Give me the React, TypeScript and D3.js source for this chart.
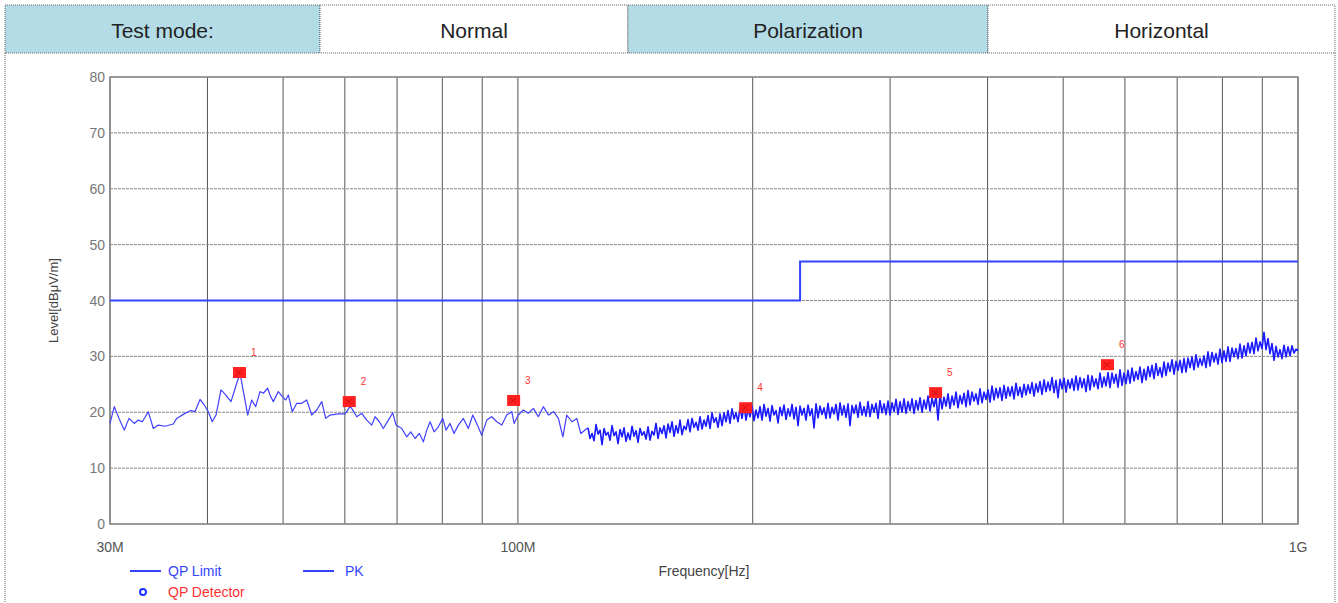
import React, { useEffect, useRef } from "react";
import * as d3 from "d3";

// header row of the test report
const headerCells = ["Test mode:", "Normal", "Polarization", "Horizontal"];
const headerShaded = [true, false, true, false];

const yTicks = [0, 10, 20, 30, 40, 50, 60, 70, 80];
const gridFreqs = [30, 40, 50, 60, 70, 80, 90, 100, 200, 300, 400, 500, 600, 700, 800, 900, 1000];
const xTickFreqs = [30, 100, 1000];
const xTickLabels = ["30M", "100M", "1G"];

// QP limit, MHz / dBuV/m
const limitFreqs = [30, 230, 230, 1000];
const limitLevels = [40, 40, 47, 47];

// PK trace, 30M - 123M (read point by point)
const pkLowFreqs = [
  30.0, 30.38, 30.81, 31.29, 31.73, 32.23, 32.61, 33.0, 33.59, 34.09, 34.6, 35.29, 36.16, 36.53, 37.43,
  38.1, 38.55, 39.13, 39.63, 40.1, 40.57, 41.02, 41.63, 42.21, 42.88, 43.48, 44.03, 45.05, 45.58, 46.12,
  46.71, 47.17, 47.78, 48.11, 48.58, 49.3, 49.89, 50.39, 50.78, 51.38, 52.05, 52.83, 53.61, 54.41, 55.22,
  56.05, 56.71, 57.44, 58.86, 60.04, 60.93, 61.23, 62.14, 63.07, 64.01, 64.96, 65.6, 66.44, 67.22, 68.22,
  69.12, 69.79, 70.98, 72.03, 72.89, 73.82, 74.76, 75.65, 76.41, 77.16, 78.08, 79.07, 80.11, 80.89, 81.85,
  82.82, 83.88, 85.13, 86.39, 87.52, 88.56, 89.88, 91.22, 92.58, 93.96, 95.36, 96.77, 98.21, 98.88, 100.1,
  101.6, 103.1, 104.7, 106.2, 107.8, 109.4, 111.1, 112.7, 114.2, 115.5, 117.3, 119.0, 120.4, 122.6,
];
const pkLowLevels = [
  18.0, 21.0, 18.9, 16.8, 18.9, 18.0, 18.6, 18.3, 20.1, 17.1, 17.7, 17.5, 17.9, 18.9, 19.8,
  20.3, 20.1, 22.3, 21.3, 20.1, 18.3, 19.5, 24.0, 23.1, 21.9, 24.6, 27.0, 19.5, 22.2, 21.0,
  23.7, 23.4, 24.3, 23.1, 21.9, 23.7, 22.8, 22.2, 23.1, 20.1, 21.6, 21.6, 22.2, 19.5, 20.4,
  21.9, 18.9, 19.5, 19.7, 19.7, 21.0, 20.7, 19.2, 19.8, 18.6, 17.7, 19.2, 18.3, 17.1, 18.6,
  19.9, 17.7, 17.1, 15.6, 16.5, 15.3, 16.2, 14.7, 16.8, 18.3, 16.5, 17.4, 18.9, 16.8, 18.0,
  16.2, 17.7, 18.9, 17.1, 19.5, 18.0, 15.9, 18.6, 19.2, 18.3, 17.7, 19.5, 20.1, 18.0, 19.5,
  20.4, 19.8, 20.7, 19.2, 21.0, 19.5, 20.1, 18.9, 15.6, 19.5, 18.3, 18.9, 16.2, 17.1,
];

// PK trace, 123M - 1G sweep (equal log steps)
const pkHighStart = 123;
const pkHighEnd = 1000;
const pkHighLevels = [
  17.2, 15.3, 16.2, 14.9, 17.8, 16.1, 16.8, 14.2, 17.1, 15.9,
  16.4, 15.0, 17.6, 15.8, 16.5, 14.4, 16.9, 15.6, 17.2, 14.8,
  16.3, 15.1, 17.5, 15.7, 16.7, 14.6, 17.1, 15.9, 16.5, 15.2,
  17.4, 15.0, 16.6, 15.9, 18.0, 15.3, 17.2, 16.2, 17.6, 15.4,
  17.9, 16.4, 18.3, 15.7, 17.6, 16.3, 18.6, 16.0, 17.5, 16.9,
  18.7, 16.5, 18.9, 17.3, 18.2, 16.8, 19.2, 17.0, 18.6, 17.5,
  19.4, 17.1, 19.9, 18.2, 19.0, 17.3, 19.7, 17.6, 19.9, 18.3,
  20.3, 18.0, 20.6, 18.8, 19.9, 18.3, 20.8, 18.9, 21.2, 18.6,
  20.6, 19.2, 21.1, 18.5, 20.4, 19.0, 21.0, 18.6, 21.4, 19.3,
  20.7, 18.4, 21.2, 19.5, 20.3, 18.1, 20.9, 19.4, 21.3, 18.7,
  20.6, 19.3, 21.4, 18.8, 20.9, 17.6, 21.1, 19.5, 20.7, 18.6,
  21.3, 19.4, 20.6, 17.2, 21.5, 19.0, 21.1, 19.6, 20.8, 18.9,
  21.6, 19.0, 20.9, 19.7, 21.4, 18.6, 21.7, 19.5, 21.2, 19.1,
  21.5, 17.6, 21.2, 19.8, 21.3, 19.1, 21.8, 19.5, 21.0, 19.3,
  21.9, 19.2, 21.4, 20.0, 21.6, 18.9, 22.1, 19.9, 21.5, 19.6,
  22.0, 19.5, 21.7, 20.1, 22.3, 19.6, 21.9, 20.0, 22.4, 19.8,
  21.9, 20.3, 22.4, 19.8, 22.1, 20.4, 22.6, 20.0, 22.2, 20.6,
  22.9, 20.2, 22.5, 21.0, 22.8, 18.6, 23.2, 20.6, 22.7, 21.1,
  23.3, 20.7, 22.9, 21.3, 23.6, 20.8, 23.0, 21.5, 23.4, 21.0,
  23.9, 21.3, 23.6, 22.0, 23.3, 21.4, 24.2, 21.7, 23.6, 22.3,
  24.0, 21.8, 24.7, 22.2, 24.3, 22.6, 24.4, 22.1, 24.8, 22.5,
  24.5, 22.9, 24.6, 22.4, 25.2, 23.0, 24.5, 22.7, 25.0, 23.1,
  24.9, 23.4, 25.3, 22.9, 25.1, 23.6, 25.5, 23.2, 25.8, 23.7,
  25.4, 23.9, 26.2, 23.5, 25.7, 22.6, 25.9, 24.2, 26.1, 23.6,
  25.8, 24.3, 26.0, 23.9, 26.5, 24.0, 26.2, 24.4, 26.0, 23.7,
  26.6, 24.0, 26.5, 24.6, 26.0, 24.2, 27.0, 24.5, 26.3, 24.7,
  27.1, 24.4, 27.0, 25.2, 26.8, 24.5, 27.6, 24.8, 27.0, 25.1,
  27.5, 25.2, 27.9, 25.6, 27.3, 25.9, 28.1, 25.3, 27.7, 25.8,
  28.2, 26.4, 28.4, 26.0, 28.7, 26.6, 28.0, 26.3, 29.0, 26.6,
  28.8, 27.3, 29.4, 26.8, 29.1, 27.5, 29.3, 27.1, 29.6, 27.2,
  29.7, 28.0, 29.9, 27.6, 30.3, 28.1, 29.6, 28.4, 30.1, 28.0,
  30.8, 28.3, 30.7, 29.0, 30.5, 28.6, 31.3, 28.9, 31.0, 29.1,
  31.7, 29.1, 31.5, 29.9, 31.4, 29.6, 32.2, 29.7, 31.9, 30.1,
  32.4, 30.6, 32.5, 30.5, 33.3, 31.0, 32.6, 31.4, 34.3, 31.2,
  33.2, 30.5, 32.3, 29.3, 31.8, 29.9, 31.2, 29.6, 32.0, 29.9,
  31.7, 30.1, 31.9, 30.6, 31.3, 31.1,
];

// QP detector markers
const markerFreqs = [43.9, 60.7, 98.6, 195.6, 342.6, 569];
const markerLevels = [27.2, 22.0, 22.2, 20.9, 23.6, 28.6];
const markerNames = ["1", "2", "3", "4", "5", "6"];

const W = 1338;
const H = 603;
const FONT = "'Liberation Sans', Arial, sans-serif";

export default function App() {
  const ref = useRef<SVGSVGElement>(null);

  useEffect(() => {
    const svg = d3.select(ref.current);
    svg.selectAll("*").remove();

    var margin = { top: 77, left: 110, right: 40, bottom: 79 };
    var x = d3.scaleLog().domain([30, 1000]).range([margin.left, W - margin.right]);
    var y = d3.scaleLinear().domain([0, 80]).range([H - margin.bottom, margin.top]);

    // header cells
    const cellEdges = [5, 320, 628, 988, 1335];
    headerCells.forEach((txt, i) => {
      svg.append("rect")
        .attr("x", cellEdges[i]).attr("y", 5)
        .attr("width", cellEdges[i + 1] - cellEdges[i]).attr("height", 48)
        .attr("fill", headerShaded[i] ? "#b3dce6" : "#fff")
        .attr("stroke", "#666").attr("stroke-dasharray", "1,1");
      svg.append("text")
        .attr("x", (cellEdges[i] + cellEdges[i + 1]) / 2).attr("y", 38)
        .attr("text-anchor", "middle")
        .style("font-family", FONT).style("font-size", "21px").attr("fill", "#222")
        .text(txt);
    });
    // outer frame below header
    svg.append("path")
      .attr("d", "M5,53 V603 M1335,53 V603")
      .attr("stroke", "#666").attr("stroke-dasharray", "1,1").attr("fill", "none");

    // grid
    svg.append("g").selectAll("line").data(gridFreqs).enter().append("line")
      .attr("x1", (d) => x(d)).attr("x2", (d) => x(d))
      .attr("y1", y(80)).attr("y2", y(0))
      .attr("stroke", "#555").attr("stroke-width", 1);
    svg.append("g").selectAll("line").data(yTicks).enter().append("line")
      .attr("x1", x(30)).attr("x2", x(1000))
      .attr("y1", (d) => y(d)).attr("y2", (d) => y(d))
      .attr("stroke", "#888").attr("stroke-dasharray", "3,1");
    svg.append("rect")
      .attr("x", x(30)).attr("y", y(80))
      .attr("width", x(1000) - x(30)).attr("height", y(0) - y(80))
      .attr("fill", "none").attr("stroke", "#888").attr("stroke-width", 1.5);

    // tick labels
    svg.append("g").selectAll("text").data(yTicks).enter().append("text")
      .attr("x", x(30) - 5).attr("y", (d) => y(d) + 5)
      .attr("text-anchor", "end")
      .style("font-family", FONT).style("font-size", "14px").attr("fill", "#777")
      .text((d) => d);
    svg.append("g").selectAll("text").data(xTickFreqs).enter().append("text")
      .attr("x", (d) => x(d)).attr("y", 552)
      .attr("text-anchor", "middle")
      .style("font-family", FONT).style("font-size", "14px").attr("fill", "#555")
      .text((d, i) => xTickLabels[i]);

    svg.append("text")
      .attr("transform", "translate(58," + y(40) + ") rotate(-90)")
      .attr("text-anchor", "middle")
      .style("font-family", FONT).style("font-size", "13px").attr("fill", "#444")
      .text("Level[dBμV/m]");
    svg.append("text")
      .attr("x", 704).attr("y", 576).attr("text-anchor", "middle")
      .style("font-family", FONT).style("font-size", "14px").attr("fill", "#444")
      .text("Frequency[Hz]");

    // limit
    const line = d3.line<[number, number]>().x((d) => x(d[0])).y((d) => y(d[1]));
    svg.append("path")
      .datum(limitFreqs.map((f, i) => [f, limitLevels[i]] as [number, number]))
      .attr("d", line).attr("fill", "none")
      .attr("stroke", "#3344ff").attr("stroke-width", 2);

    // PK trace: sparse low band and dense sweep above 123M
    const n = pkHighLevels.length;
    const highFreqs = d3.range(n).map((i) => pkHighStart * Math.pow(pkHighEnd / pkHighStart, i / (n - 1)));
    const pkLow = pkLowFreqs.map((f, i) => [f, pkLowLevels[i]] as [number, number]);
    const pkHigh = highFreqs.map((f, i) => [f, pkHighLevels[i]] as [number, number]);
    svg.append("path")
      .datum(pkLow.concat([pkHigh[0]]))
      .attr("d", line).attr("fill", "none")
      .attr("stroke", "#4040ff").attr("stroke-width", 1.2).attr("stroke-linejoin", "round");
    svg.append("path")
      .datum(pkHigh)
      .attr("d", line).attr("fill", "none")
      .attr("stroke", "#1a1aff").attr("stroke-width", 1.6).attr("stroke-linejoin", "round");

    // markers
    const mk = svg.append("g").selectAll("g").data(markerFreqs).enter().append("g")
      .attr("transform", (d, i) => "translate(" + x(d) + "," + y(markerLevels[i]) + ")");
    mk.append("rect")
      .attr("x", -6).attr("y", -5).attr("width", 13).attr("height", 11)
      .attr("fill", "#ff2020");
    mk.append("path")
      .attr("d", "M-3,-2 L3,3 M-3,3 L3,-2")
      .attr("stroke", "#d01010").attr("stroke-width", 1);
    mk.append("text")
      .attr("x", 12).attr("y", -16)
      .style("font-family", FONT).style("font-size", "10px").attr("fill", "#ff3030")
      .text((d, i) => markerNames[i]);

    // legend
    const lg = svg.append("g").style("font-family", FONT).style("font-size", "14px");
    lg.append("line").attr("x1", 130).attr("x2", 161).attr("y1", 571).attr("y2", 571)
      .attr("stroke", "#3344ff").attr("stroke-width", 2);
    lg.append("text").attr("x", 168).attr("y", 576).attr("fill", "#3344ff").text("QP Limit");
    lg.append("line").attr("x1", 303).attr("x2", 334).attr("y1", 571).attr("y2", 571)
      .attr("stroke", "#3344ff").attr("stroke-width", 2);
    lg.append("text").attr("x", 345).attr("y", 576).attr("fill", "#3344ff").text("PK");
    lg.append("circle").attr("cx", 143).attr("cy", 592).attr("r", 3)
      .attr("fill", "none").attr("stroke", "#2233ff").attr("stroke-width", 2);
    lg.append("text").attr("x", 168).attr("y", 597).attr("fill", "#ff3030").text("QP Detector");
  }, []);

  return (
    <svg ref={ref} width={W} height={H}
      style={{ position: "absolute", left: 0, top: 0, background: "#fff" }} />
  );
}
